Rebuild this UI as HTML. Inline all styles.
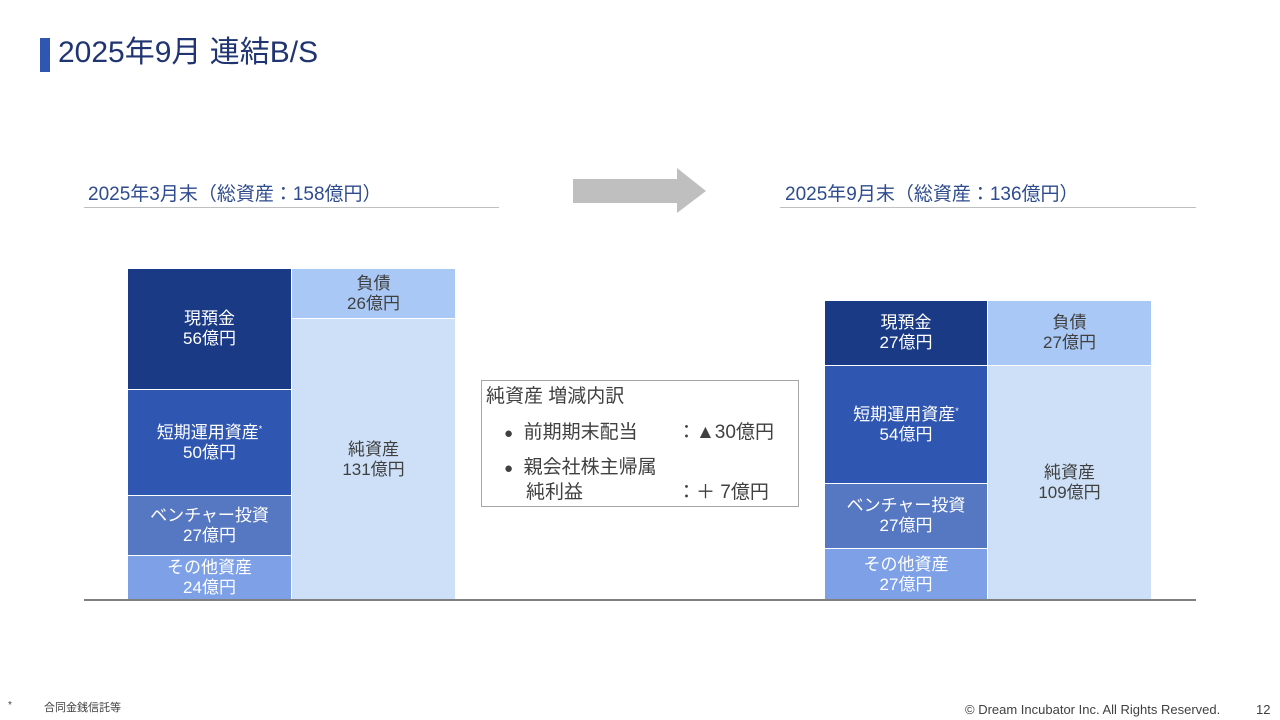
<!DOCTYPE html>
<html><head><meta charset="utf-8"><style>
*{margin:0;padding:0;box-sizing:border-box}
body{width:1280px;height:720px;background:#fff;position:relative;overflow:hidden;font-family:"Liberation Sans","Noto Sans CJK JP",sans-serif}
.a{position:absolute}
.b{position:absolute;display:flex;flex-direction:column;align-items:center;justify-content:center;text-align:center;font-size:17px;line-height:20px}
.w{color:#fff}.g{color:#404040}
.s{font-size:9px;vertical-align:top;position:relative;top:-4px}
</style></head><body>
<div class="a" style="left:40px;top:38px;width:10px;height:34px;background:#2f56b0"></div>
<div class="a" style="left:58px;top:33px;font-size:30px;color:#1f3470;line-height:40px">2025年9月 連結B/S</div>

<div class="a" style="left:88px;top:179px;font-size:19px;color:#2e4b8e">2025年3月末（総資産：158億円）</div>
<div class="a" style="left:84px;top:207px;width:415px;height:1px;background:#bfbfbf"></div>
<div class="a" style="left:785px;top:179px;font-size:19px;color:#2e4b8e">2025年9月末（総資産：136億円）</div>
<div class="a" style="left:780px;top:207px;width:416px;height:1px;background:#bfbfbf"></div>

<svg class="a" style="left:0;top:0" width="1280" height="720"><polygon points="573,179 677,179 677,168 706,191 677,213 677,203 573,203" fill="#bfbfbf"/></svg>

<div class="b w" style="left:128px;top:269px;width:163px;height:120px;background:#1a3a86"><div>現預金</div><div>56億円</div></div>
<div class="b w" style="left:128px;top:390px;width:163px;height:105px;background:#2f56b0"><div>短期運用資産<span class="s">*</span></div><div>50億円</div></div>
<div class="b w" style="left:128px;top:496px;width:163px;height:59px;background:#5677c1"><div>ベンチャー投資</div><div>27億円</div></div>
<div class="b w" style="left:128px;top:556px;width:163px;height:44px;background:#7da0e6"><div>その他資産</div><div>24億円</div></div>
<div class="b g" style="left:292px;top:269px;width:163px;height:49px;background:#a9c8f5"><div>負債</div><div>26億円</div></div>
<div class="b g" style="left:292px;top:319px;width:163px;height:281px;background:#cde0f7"><div>純資産</div><div>131億円</div></div>

<div class="b w" style="left:825px;top:301px;width:162px;height:64px;background:#1a3a86"><div>現預金</div><div>27億円</div></div>
<div class="b w" style="left:825px;top:366px;width:162px;height:117px;background:#2f56b0"><div>短期運用資産<span class="s">*</span></div><div>54億円</div></div>
<div class="b w" style="left:825px;top:484px;width:162px;height:64px;background:#5677c1"><div>ベンチャー投資</div><div>27億円</div></div>
<div class="b w" style="left:825px;top:549px;width:162px;height:51px;background:#7da0e6"><div>その他資産</div><div>27億円</div></div>
<div class="b g" style="left:988px;top:301px;width:163px;height:64px;background:#a9c8f5"><div>負債</div><div>27億円</div></div>
<div class="b g" style="left:988px;top:366px;width:163px;height:234px;background:#cde0f7"><div>純資産</div><div>109億円</div></div>

<div class="a" style="left:84px;top:599px;width:1112px;height:2px;background:#7f7f7f"></div>

<div class="a" style="left:481px;top:380px;width:318px;height:127px;border:1px solid #a6a6a6;color:#404040;font-size:19px;line-height:30px">
<div class="a" style="left:4px;top:1px">純資産 増減内訳</div>
<div class="a" style="left:22px;top:37px"><span style="font-size:15px">●</span>&nbsp;&nbsp;前期期末配当</div>
<div class="a" style="left:195px;top:37px">：▲30億円</div>
<div class="a" style="left:22px;top:72px"><span style="font-size:15px">●</span>&nbsp;&nbsp;親会社株主帰属</div>
<div class="a" style="left:44px;top:97px">純利益</div>
<div class="a" style="left:195px;top:97px">：＋ 7億円</div>
</div>

<div class="a" style="left:8px;top:700px;font-size:10px;color:#404040">*</div>
<div class="a" style="left:44px;top:699px;font-size:11px;color:#404040">合同金銭信託等</div>
<div class="a" style="left:965px;top:702px;font-size:13px;color:#404040">© Dream Incubator Inc. All Rights Reserved.</div>
<div class="a" style="left:1256px;top:702px;font-size:13px;color:#404040">12</div>
</body></html>
